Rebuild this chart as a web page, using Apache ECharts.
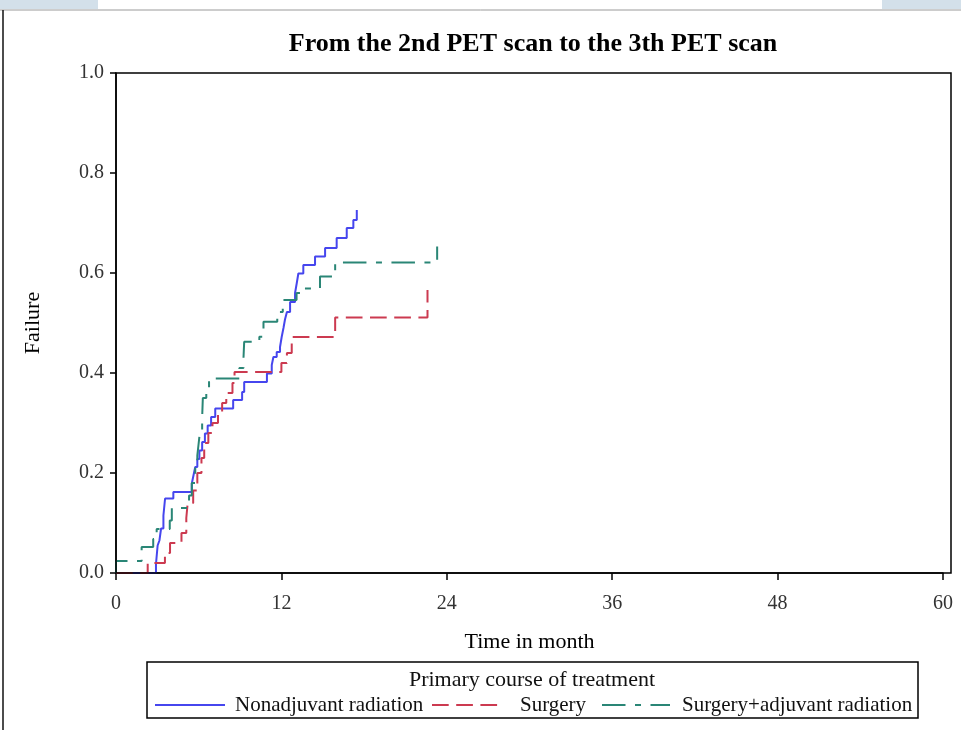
<!DOCTYPE html>
<html>
<head>
<meta charset="utf-8">
<script src="https://cdn.jsdelivr.net/npm/echarts@6/dist/echarts.min.js"></script>
<style>
  html, body { margin: 0; padding: 0; background: #fff; }
  #chart { width: 961px; height: 730px; }
</style>
</head>
<body>
<div id="chart"></div>
<script>
// Cumulative failure (Kaplan-Meier style) by primary course of treatment.
// Each pair is [time in months, failure probability after the step at that time].
const nonadjuvantRadiation = [
  [0, 0], [2.90, 0.018], [3.02, 0.055], [3.15, 0.065], [3.27, 0.089], [3.44, 0.115],
  [3.56, 0.149], [4.16, 0.162], [5.50, 0.179], [5.62, 0.195], [5.75, 0.212],
  [5.90, 0.228], [6.05, 0.245], [6.25, 0.262], [6.45, 0.279], [6.65, 0.295],
  [6.90, 0.312], [7.20, 0.329], [8.50, 0.346], [9.15, 0.362], [9.30, 0.382],
  [10.95, 0.399], [11.30, 0.416], [11.42, 0.432], [11.66, 0.442], [11.90, 0.452],
  [12.02, 0.472], [12.15, 0.490], [12.26, 0.507], [12.40, 0.522], [12.63, 0.542],
  [12.99, 0.560], [13.11, 0.579], [13.23, 0.599], [13.59, 0.616], [14.44, 0.633],
  [15.17, 0.650], [16.01, 0.670], [16.74, 0.690], [17.22, 0.706], [17.47, 0.726]
];
const surgery = [
  [0, 0], [2.30, 0.020], [3.55, 0.040], [3.92, 0.060], [4.75, 0.080], [5.10, 0.110],
  [5.20, 0.140], [5.60, 0.165], [5.90, 0.200], [6.20, 0.230], [6.40, 0.260],
  [6.70, 0.280], [7.00, 0.300], [7.40, 0.320], [7.70, 0.340], [8.00, 0.360],
  [8.45, 0.380], [8.60, 0.402], [12.00, 0.420], [12.40, 0.440], [12.75, 0.472],
  [15.90, 0.511], [22.60, 0.566]
];
const surgeryAdjuvantRadiation = [
  [0, 0], [0, 0.024], [1.86, 0.052], [2.70, 0.068], [2.95, 0.088], [3.90, 0.105], [4.05, 0.130],
  [5.30, 0.155], [5.50, 0.180], [5.75, 0.210], [5.90, 0.235], [6.00, 0.260],
  [6.10, 0.285], [6.25, 0.310], [6.30, 0.350], [6.55, 0.370], [6.75, 0.389],
  [8.95, 0.410], [9.25, 0.430], [9.30, 0.4625], [10.40, 0.4725], [10.70, 0.5025],
  [11.70, 0.522], [12.10, 0.546], [13.10, 0.560], [13.50, 0.569], [14.80, 0.593],
  [15.90, 0.621], [23.30, 0.653]
];

const seriesNames = ['Nonadjuvant radiation', 'Surgery', 'Surgery+adjuvant radiation'];
const seriesData = [nonadjuvantRadiation, surgery, surgeryAdjuvantRadiation];
const seriesColors = ['#4646ee', '#cc3a50', '#2a8676'];
const seriesDash = ['solid', [16.7, 7.5], [23.5, 9.5, 6, 9.5]];

const xTicks = [0, 12, 24, 36, 48, 60];
const yTicks = [0, 0.2, 0.4, 0.6, 0.8, 1.0];

const chartTitle = 'From the 2nd PET scan to the 3th PET scan';
const xAxisTitle = 'Time in month';
const yAxisTitle = 'Failure';
const legendTitle = 'Primary course of treatment';

const serif = "'Liberation Serif', 'Times New Roman', serif";

const chart = echarts.init(document.getElementById('chart'), null, { renderer: 'canvas' });

// Legend sample geometry (row of line samples and labels)
const legendRow = [
  { x1: 155, x2: 225, tx: 235 },
  { x1: 432, x2: 502, tx: 520 },
  { x1: 602, x2: 670, tx: 682 }
];

const legendGraphics = [];
legendRow.forEach((it, i) => {
  legendGraphics.push({
    type: 'line',
    shape: { x1: it.x1, y1: 705, x2: it.x2, y2: 705 },
    style: {
      stroke: seriesColors[i], lineWidth: 2,
      lineDash: seriesDash[i] === 'solid' ? null : seriesDash[i]
    }
  });
  legendGraphics.push({
    type: 'text',
    x: it.tx, y: 705,
    style: {
      text: seriesNames[i], font: '21px ' + serif, fill: '#111',
      align: 'left', verticalAlign: 'middle'
    }
  });
});

const option = {
  backgroundColor: '#fff',
  animation: false,
  title: {
    text: chartTitle,
    left: 528,
    top: 26,
    textAlign: 'center',
    textStyle: { fontFamily: serif, fontSize: 26, fontWeight: 'bold', color: '#000' }
  },
  grid: { left: 116, right: 18, top: 73, bottom: 157 },
  xAxis: {
    type: 'value',
    min: xTicks[0],
    max: xTicks[xTicks.length - 1],
    interval: 12,
    name: xAxisTitle,
    nameLocation: 'middle',
    nameGap: 58,
    nameTextStyle: { fontFamily: serif, fontSize: 22, color: '#000' },
    axisLine: { show: true, lineStyle: { color: '#000', width: 1.5 } },
    axisTick: { show: true, inside: false, length: 7, lineStyle: { color: '#000', width: 1.5 } },
    axisLabel: { fontFamily: serif, fontSize: 20, color: '#333', margin: 21 },
    splitLine: { show: false }
  },
  yAxis: {
    type: 'value',
    min: yTicks[0],
    max: yTicks[yTicks.length - 1],
    interval: 0.2,
    name: yAxisTitle,
    nameLocation: 'middle',
    nameRotate: 90,
    nameGap: 72,
    nameTextStyle: { fontFamily: serif, fontSize: 22, color: '#000' },
    axisLine: { show: true, lineStyle: { color: '#000', width: 1.5 } },
    axisTick: { show: true, inside: false, length: 6, lineStyle: { color: '#000', width: 1.5 } },
    axisLabel: {
      fontFamily: serif, fontSize: 20, color: '#333', margin: 12,
      formatter: v => v.toFixed(1)
    },
    splitLine: { show: false }
  },
  series: seriesData.map((d, i) => ({
    name: seriesNames[i],
    type: 'line',
    step: 'end',
    data: d,
    showSymbol: false,
    symbol: 'none',
    clip: false,
    lineStyle: { color: seriesColors[i], width: 2, type: seriesDash[i] },
    itemStyle: { color: seriesColors[i] },
    emphasis: { disabled: true },
    z: 3 + i
  })),
  graphic: [
    // page strip and outer edges
    { type: 'rect', shape: { x: 0, y: 0, width: 98, height: 9 }, style: { fill: '#d3e0ea' } },
    { type: 'rect', shape: { x: 882, y: 0, width: 79, height: 9 }, style: { fill: '#d3e0ea' } },
    { type: 'line', shape: { x1: 0, y1: 10, x2: 961, y2: 10 }, style: { stroke: '#9a9a9a', lineWidth: 1 } },
    { type: 'line', shape: { x1: 3, y1: 10, x2: 3, y2: 730 }, style: { stroke: '#111', lineWidth: 1.5 } },
    // plot frame
    {
      type: 'rect', z: 10,
      shape: { x: 116, y: 73, width: 835, height: 500 },
      style: { fill: null, stroke: '#000', lineWidth: 1.5 }
    },
    // legend box and title
    {
      type: 'rect',
      shape: { x: 147, y: 662, width: 771, height: 56 },
      style: { fill: '#fff', stroke: '#000', lineWidth: 1.5 }
    },
    {
      type: 'text', x: 532, y: 680,
      style: {
        text: legendTitle, font: '22px ' + serif, fill: '#111',
        align: 'center', verticalAlign: 'middle'
      }
    },
    ...legendGraphics
  ]
};

chart.setOption(option);
</script>
</body>
</html>
